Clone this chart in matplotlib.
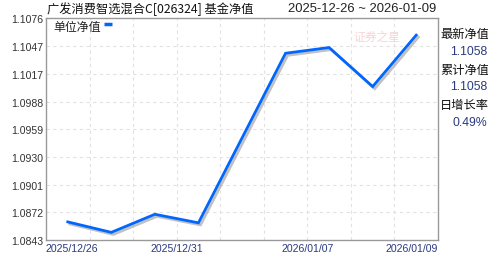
"""Fund NAV line chart: 广发消费智选混合C, 2025-12-26 to 2026-01-09."""

import matplotlib

matplotlib.use("Agg")
import matplotlib.patheffects as pe
import matplotlib.pyplot as plt
import matplotlib.transforms as mtransforms

dates = [
    "2025/12/26", "2025/12/29", "2025/12/30", "2025/12/31", "2026/01/05",
    "2026/01/06", "2026/01/07", "2026/01/08", "2026/01/09",
]
nav = [1.0862, 1.0851, 1.0870, 1.0861, 1.0950, 1.1039, 1.1045, 1.1004, 1.1058]
shown_dates = ["2025/12/26", "2025/12/31", "2026/01/07", "2026/01/09"]
y_ticks = [1.0843, 1.0872, 1.0901, 1.0930, 1.0959, 1.0988, 1.1017, 1.1047, 1.1076]

title = "广发消费智选混合C[026324] 基金净值"
date_range = "2025-12-26 ~ 2026-01-09"
side_labels = ["最新净值", "累计净值", "日增长率"]
side_values = ["1.1058", "1.1058", "0.49%"]

CJK = ["Noto Sans CJK SC", "DejaVu Sans"]
NUM = ["Liberation Sans", "DejaVu Sans"]


def main() -> None:
    n = len(dates)

    fig = plt.figure(figsize=(4.88, 2.55), dpi=100)
    ax = fig.add_axes([46 / 488, 14 / 255, 392 / 488, 222 / 255])

    xs = list(range(n))
    ax.plot(
        xs, nav, color="#0066ff", lw=2, solid_joinstyle="miter",
        path_effects=[
            pe.SimpleLineShadow(offset=(1.5, -1.5), shadow_color="#999999", alpha=0.6),
            pe.Normal(),
        ],
        zorder=3,
    )

    ax.set_xlim(-0.5, n - 0.5)
    ax.set_ylim(y_ticks[0], y_ticks[-1])

    # grid: vertical at column boundaries, horizontal at ticks
    for k in range(1, n):
        ax.axvline(k - 0.5, color="#e2e2e2", lw=0.8, ls=(0, (3, 3)), zorder=1)
    for v in y_ticks[1:-1]:
        ax.axhline(v, color="#e2e2e2", lw=0.8, ls=(0, (3, 3)), zorder=1)

    ax.set_yticks(y_ticks)
    ax.set_yticklabels([f"{v:.4f}" for v in y_ticks], family=NUM, fontsize=7.6, color="#333333")
    ax.tick_params(axis="y", length=0, pad=2)
    ax.set_xticks([])

    for s in ax.spines.values():
        s.set_color("#999999")
        s.set_linewidth(1)

    # x labels placed on column left edges, clamped inside the axes
    trans = mtransforms.blended_transform_factory(ax.transData, fig.transFigure)
    for d in shown_dates:
        i = dates.index(d)
        if i == 0:
            x, ha = -0.5, "left"
        elif i == n - 1:
            x, ha = n - 0.5, "right"
        else:
            x, ha = i - 0.5, "center"
        ax.text(x, 2.5 / 255, d, transform=trans, ha=ha, va="baseline",
                family=NUM, fontsize=7.6, color="#2a3a80", clip_on=False)

    # legend inside the plot
    ax.text(7 / 392, 1 - 9 / 222, "单位净值", transform=ax.transAxes, ha="left",
            va="center", family=CJK, fontsize=8.6, color="#222222")
    ax.plot([58 / 392, 66 / 392], [1 - 6 / 222, 1 - 6 / 222], transform=ax.transAxes,
            color="#0066ff", lw=2.5, solid_capstyle="butt", clip_on=False)

    # faint watermark
    ax.text(0.845, 1 - 18 / 222, "证券之星", transform=ax.transAxes, ha="center",
            va="center", family=CJK, fontsize=8.5, color="#f08080", alpha=0.35,
            style="italic", zorder=0)

    # header
    fig.text(47 / 488, 1 - 9 / 255, title, ha="left", va="center",
             family=CJK, fontsize=8.8, color="#111111")
    fig.text(436 / 488, 1 - 9 / 255, date_range, ha="right", va="center",
             family=NUM, fontsize=9.4, color="#222222")

    # right panel
    for j, (lab, val) in enumerate(zip(side_labels, side_values)):
        top = 34.5 + j * 35.5
        fig.text(440 / 488, 1 - top / 255, lab, ha="left", va="center",
                 family=CJK, fontsize=8.8, color="#111111")
        fig.text(487 / 488, 1 - (top + 17.5) / 255, val, ha="right", va="center",
                 family=NUM, fontsize=8.8, color="#2a3a80")

    fig.savefig("out.png", dpi=100)


if __name__ == "__main__":
    main()
